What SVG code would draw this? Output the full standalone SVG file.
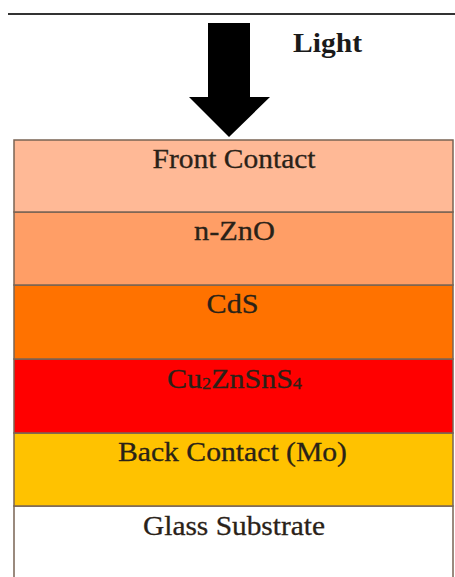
<svg xmlns="http://www.w3.org/2000/svg" width="455" height="577" viewBox="0 0 455 577">
<style>
.layer{stroke:#7a6454;stroke-width:1.5}
.lbl{font-family:"Liberation Serif","Times New Roman",serif;font-size:28px;fill:#2a2218;stroke:#2a2218;stroke-width:0.3;text-anchor:middle}
</style>
<rect width="455" height="577" fill="#ffffff"/>
<line x1="8" y1="14" x2="455" y2="14" stroke="#333333" stroke-width="2"/>
<g id="light">
<polygon points="208,23 250,23 250,97 270,97 229,137 189,97 208,97" fill="#000000"/>
<text x="327.5" y="52" font-family="'Liberation Serif','Times New Roman',serif" font-size="28" font-weight="bold" fill="#1a1a1a" text-anchor="middle" textLength="69" lengthAdjust="spacingAndGlyphs">Light</text>
</g>
<g id="glass">
<rect class="layer" x="14" y="506" width="439" height="80" fill="#ffffff" stroke="#9a9a9a"/>
<text class="lbl" x="234" y="535" textLength="182" lengthAdjust="spacingAndGlyphs">Glass Substrate</text>
</g>
<g id="back-contact">
<rect class="layer" x="14" y="433" width="439" height="73" fill="#ffc200"/>
<text class="lbl" x="232.5" y="461" textLength="229" lengthAdjust="spacingAndGlyphs">Back Contact (Mo)</text>
</g>
<g id="czts">
<rect class="layer" x="14" y="359" width="439" height="74" fill="#ff0000"/>
<text class="lbl" x="234.5" y="388" fill="#3a0000" stroke="#3a0000" textLength="135" lengthAdjust="spacingAndGlyphs">Cu<tspan font-size="17" dy="1">2</tspan><tspan dy="-1">ZnSnS</tspan><tspan font-size="17" dy="1">4</tspan></text>
</g>
<g id="cds">
<rect class="layer" x="14" y="285" width="439" height="74" fill="#ff7200"/>
<text class="lbl" x="232.5" y="313" textLength="52" lengthAdjust="spacingAndGlyphs">CdS</text>
</g>
<g id="nzno">
<rect class="layer" x="14" y="212" width="439" height="73" fill="#ff9e66"/>
<text class="lbl" x="234.5" y="240" textLength="81" lengthAdjust="spacingAndGlyphs">n-ZnO</text>
</g>
<g id="front-contact">
<rect class="layer" x="14" y="140" width="439" height="72" fill="#ffb996"/>
<text class="lbl" x="234" y="168" textLength="163" lengthAdjust="spacingAndGlyphs">Front Contact</text>
</g>
<g id="connectors"></g>
</svg>
